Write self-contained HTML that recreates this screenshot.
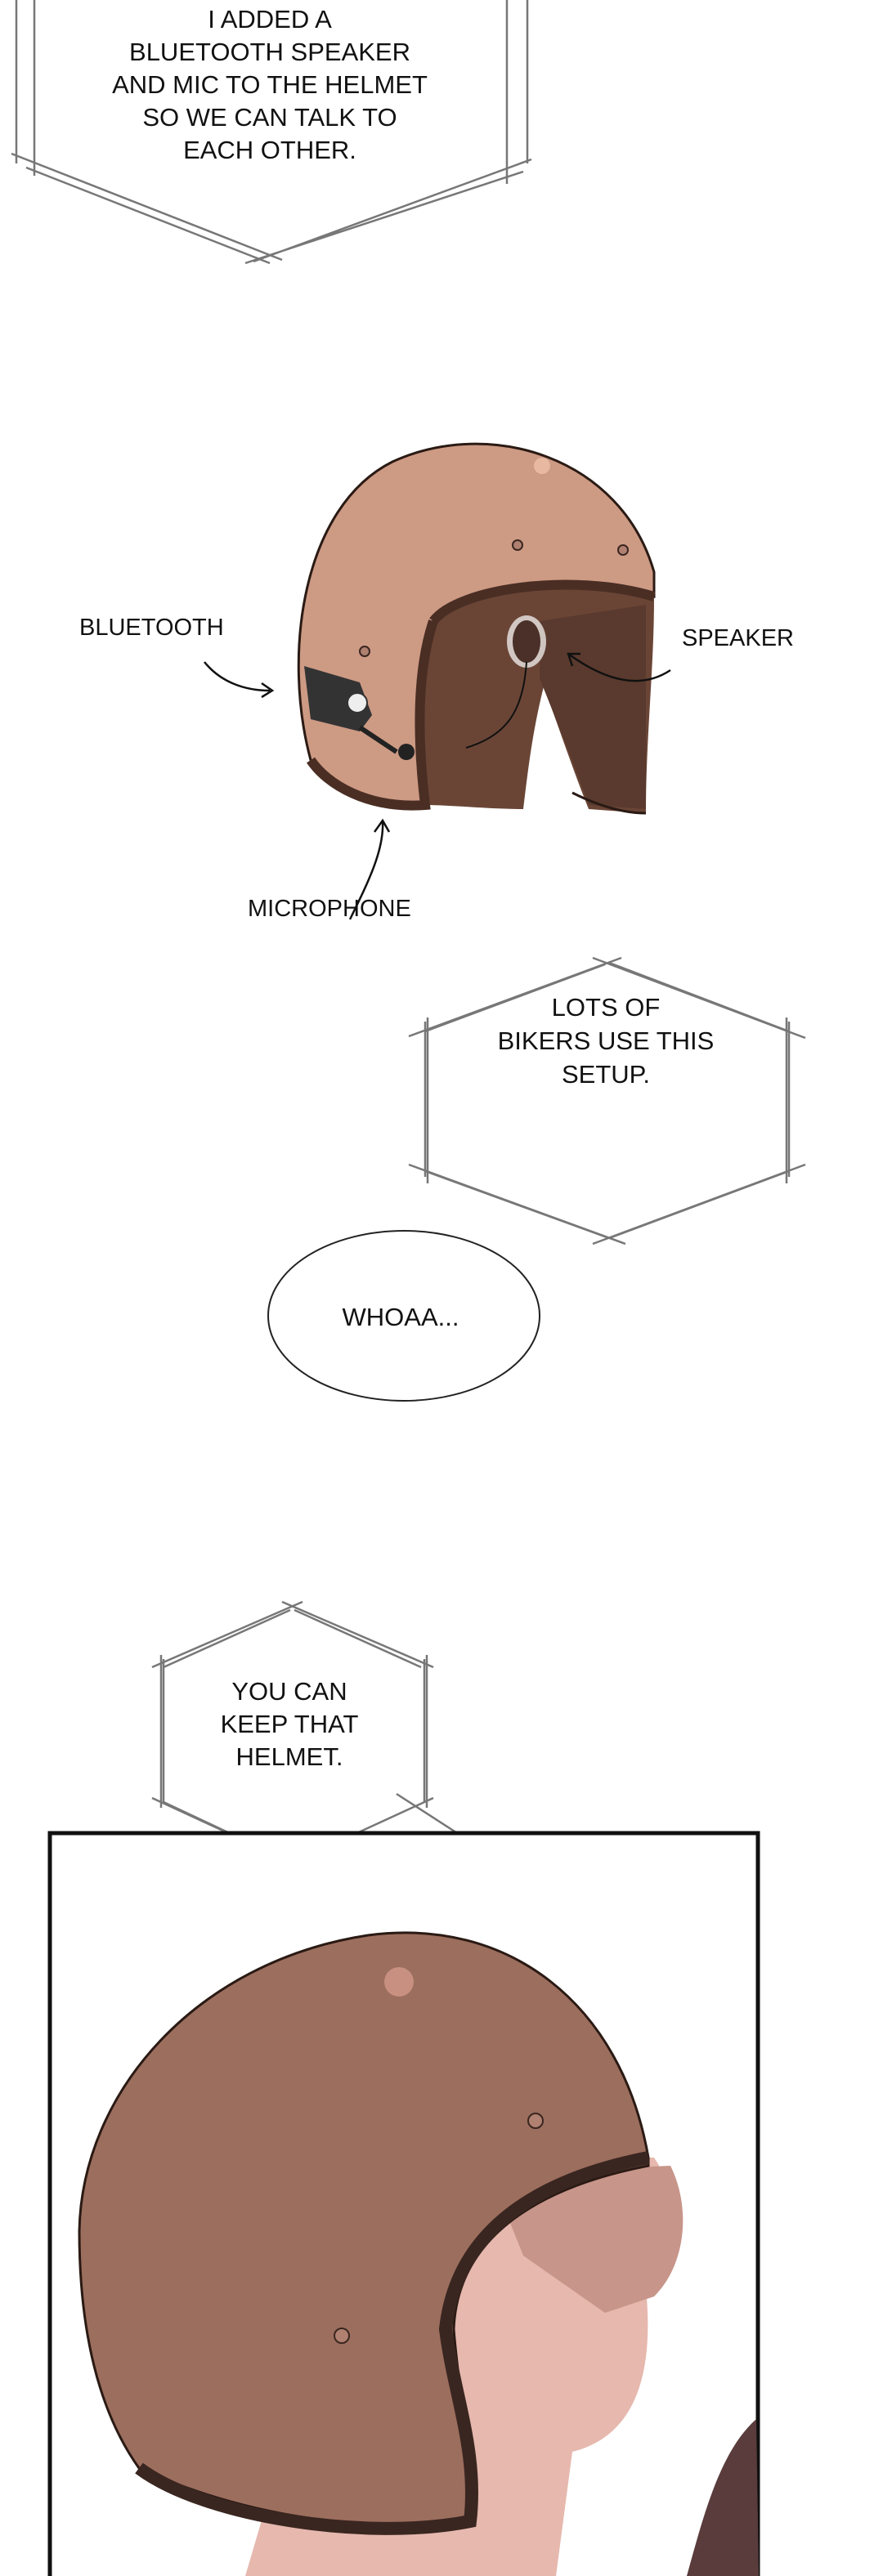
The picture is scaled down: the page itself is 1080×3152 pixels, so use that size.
<!DOCTYPE html>
<html><head><meta charset="utf-8"><style>
html,body{margin:0;padding:0;background:#fff}
body{width:1080px;height:3152px;position:relative;overflow:hidden}
svg{position:absolute;left:0;top:0}
text{font-family:"Liberation Sans",sans-serif;fill:#111}
</style></head><body>
<svg width="1080" height="3152" viewBox="0 0 1080 3152">
<g fill="none" stroke="#777" stroke-width="2.5">
<path d="M20 -10 L20 200 M42 -10 L42 215 M620 -10 L620 225 M645 -10 L645 200"/>
<path d="M14 188 L345 318 M32 205 L330 322 M650 195 L310 320 M640 210 L300 322"/>
<path d="M500 1268 L760 1172 M520 1262 L740 1180 M985 1270 L725 1172 M965 1262 L745 1178"/>
<path d="M523 1245 L523 1448 M520 1250 L520 1440 M962 1245 L962 1448 M965 1250 L965 1440"/>
<path d="M500 1425 L765 1522 M520 1433 L745 1515 M985 1425 L725 1522 M965 1433 L745 1515"/>
<path d="M186 2040 L370 1960 M200 2040 L355 1970 M530 2040 L345 1960 M515 2040 L360 1970"/>
<path d="M197 2025 L197 2212 M200 2030 L200 2205 M522 2025 L522 2212 M519 2030 L519 2205"/>
<path d="M186 2200 L370 2285 M200 2205 L355 2278 M530 2200 L345 2285 M485 2195 L655 2305"/>
</g>
<g font-size="31" text-anchor="middle">
<text x="330" y="34">I ADDED A</text>
<text x="330" y="74">BLUETOOTH SPEAKER</text>
<text x="330" y="114">AND MIC TO THE HELMET</text>
<text x="330" y="154">SO WE CAN TALK TO</text>
<text x="330" y="194">EACH OTHER.</text>
<text x="741" y="1243">LOTS OF</text>
<text x="741" y="1284">BIKERS USE THIS</text>
<text x="741" y="1325">SETUP.</text>
<text x="490" y="1622">WHOAA...</text>
<text x="354" y="2080">YOU CAN</text>
<text x="354" y="2120">KEEP THAT</text>
<text x="354" y="2160">HELMET.</text>
</g>
<g font-size="29">
<text x="97" y="777">BLUETOOTH</text>
<text x="834" y="790">SPEAKER</text>
<text x="303" y="1121">MICROPHONE</text>
</g>
<ellipse cx="494" cy="1610" rx="166" ry="104" fill="none" stroke="#222" stroke-width="2"/>
<!-- helmet 1 -->
<path d="M380 930 C345 800 370 620 480 565 C600 510 760 560 800 700 L800 730 C700 700 560 720 530 760 C510 820 510 900 520 985 C450 990 400 960 380 930 Z" fill="#cd9a84" stroke="#2a1a14" stroke-width="3"/>
<path d="M530 760 C560 720 700 700 800 730 C800 820 790 900 790 995 L720 990 C700 940 680 880 665 840 C650 900 645 950 640 990 C600 990 550 985 520 985 C510 900 510 820 530 760 Z" fill="#6a4536"/>
<path d="M660 760 L790 740 L790 990 L720 985 C700 930 680 880 660 830 Z" fill="#5a3a2e"/>
<path d="M530 760 C560 720 700 700 800 730 M530 760 C510 820 510 900 520 985 C450 990 400 960 380 930" fill="none" stroke="#4a2e24" stroke-width="12"/>
<path d="M700 970 C730 985 760 995 790 995" fill="none" stroke="#2a1a14" stroke-width="3"/>
<ellipse cx="644" cy="785" rx="24" ry="32" fill="#fff" opacity="0.7"/>
<ellipse cx="644" cy="785" rx="17" ry="26" fill="#4a3028"/>
<path d="M644 810 C640 870 620 900 570 915" fill="none" stroke="#111" stroke-width="2"/>
<path d="M372 815 L440 835 L455 875 L440 895 L380 880 Z" fill="#333"/>
<circle cx="437" cy="860" r="12" fill="#eee" stroke="#333" stroke-width="2"/>
<path d="M440 890 L485 920" stroke="#222" stroke-width="6"/>
<circle cx="497" cy="920" r="10" fill="#222"/>
<circle cx="663" cy="570" r="10" fill="#e8b8a0"/>
<g fill="#b08070" stroke="#3a2620" stroke-width="2"><circle cx="633" cy="667" r="6"/><circle cx="762" cy="673" r="6"/><circle cx="446" cy="797" r="6"/></g>
<g fill="none" stroke="#111" stroke-width="2.5">
<path d="M250 810 C270 835 300 845 330 845 M320 836 L333 845 L320 853"/>
<path d="M820 820 C790 840 750 840 695 800 M700 815 L695 800 L710 800"/>
<path d="M428 1125 C450 1080 470 1040 468 1005 M458 1018 L468 1004 L476 1018"/>
</g>
<!-- panel -->
<rect x="61" y="2243" width="866" height="920" fill="#fff" stroke="#111" stroke-width="5"/>
<path d="M560 2640 L800 2640 C840 2700 835 2780 790 2800 C800 2900 780 2980 700 3000 L680 3152 L300 3152 L330 3050 Z" fill="#e6b8ae"/>
<path d="M600 2660 L820 2650 C845 2700 840 2770 800 2810 L740 2830 L640 2760 Z" fill="#c8958a"/>
<path d="M925 2960 C880 3000 860 3080 840 3152 L928 3152 Z" fill="#5a3c3c"/>
<path d="M97 2730 C100 2560 240 2400 450 2368 C620 2345 760 2450 793 2640 L793 2650 C690 2670 560 2720 555 2850 C560 2920 580 3020 575 3085 C450 3100 300 3080 170 3020 C120 2950 97 2850 97 2730 Z" fill="#9c6e5e" stroke="#2a1a14" stroke-width="3"/>
<path d="M793 2640 C690 2660 560 2710 545 2850 C555 2930 585 3000 575 3085 C450 3110 250 3080 170 3020" fill="none" stroke="#3a2620" stroke-width="16"/>
<circle cx="488" cy="2425" r="18" fill="#c89080"/>
<g fill="#b08070" stroke="#3a2620" stroke-width="2"><circle cx="655" cy="2595" r="9"/><circle cx="418" cy="2858" r="9"/></g>
</svg>
</body></html>
